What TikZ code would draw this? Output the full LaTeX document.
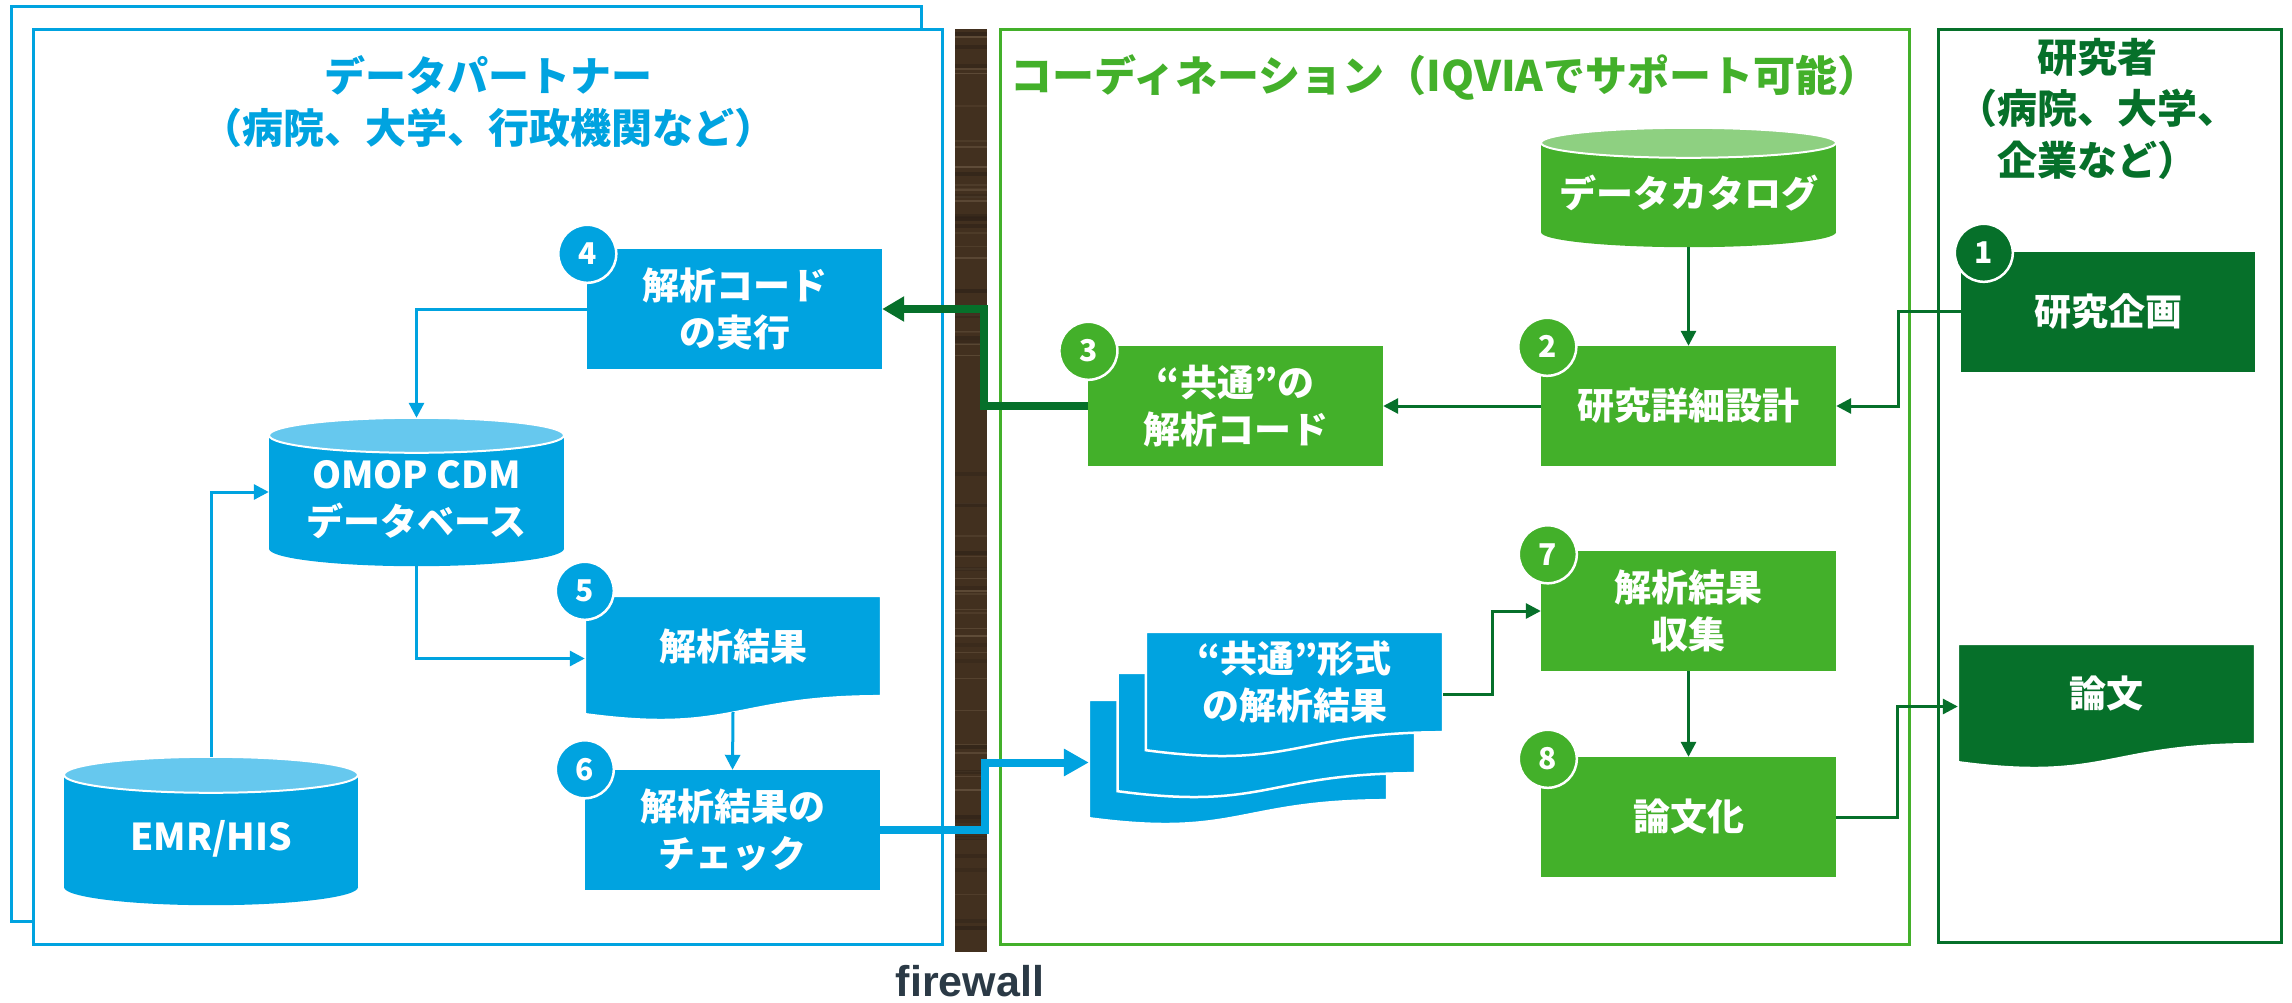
\documentclass[tikz,border=0pt]{standalone}
\usepackage{fontspec}
\usetikzlibrary{arrows.meta,calc}
\newfontfamily\jp{Noto Sans CJK JP}
\newfontfamily\fwfont{Liberation Sans}
\definecolor{cBlue}{HTML}{00A3E0}
\definecolor{cBlueL}{HTML}{66C8EE}
\definecolor{cGreen}{HTML}{43B02A}
\definecolor{cGreenL}{HTML}{8ED081}
\definecolor{cDark}{HTML}{06702A}
\definecolor{cWood}{HTML}{42301F}
\definecolor{cWoodL}{HTML}{7A6650}
\definecolor{cWoodD}{HTML}{2E2218}
\definecolor{cSlate}{HTML}{2B3A46}
\newcommand\docshape[2]{%
  \filldraw[fill=#2, draw=white, line width=2.5pt] (#1.north west) -- (#1.north east) -- ($(#1.south east)+(0,-25)$) .. controls ($(#1.south)+(0,-25)$) and ($(#1.south)+(0,13)$) .. ($(#1.south west)+(0,-7)$) -- cycle;}
\newcommand\cylshape[5]{%
  \fill[#2] ($(#1.north west)+(0,#4)$) rectangle ($(#1.south east)+(0,-#4)$);
  \fill[#2] ($(#1.south)+(0,-#4)$) ellipse [x radius=#5pt, y radius=#4pt];
  \filldraw[fill=#3, draw=white, line width=2pt] ($(#1.north)+(0,#4)$) ellipse [x radius=#5pt, y radius=#4pt];}
\begin{document}
\begin{tikzpicture}[x=1pt,y=-1pt,
  box/.style={rectangle, minimum width=295pt, minimum height=120pt, inner sep=0pt, text=white, font=\jp\bfseries\fontsize{37}{47}\selectfont, align=center},
  bluebox/.style={box, fill=cBlue},
  greenbox/.style={box, fill=cGreen},
  darkbox/.style={box, fill=cDark},
  shapebox/.style={rectangle, inner sep=0pt, minimum width=295pt},
  lbl/.style={text=white, font=\jp\bfseries\fontsize{37}{47}\selectfont, align=center, inner sep=0pt},
  badge/.style={circle, minimum size=58pt, inner sep=0pt, draw=white, line width=2.5pt, text=white, font=\jp\bfseries\fontsize{30}{30}\selectfont},
  frame/.style={rectangle, inner sep=0pt, line width=3pt},
  title/.style={align=center, inner sep=0pt, font=\jp\bfseries\fontsize{41}{52}\selectfont},
  bconn/.style={draw=cBlue, line width=3pt, -{Triangle[length=15pt,width=15pt]}},
  gconn/.style={draw=cDark, line width=3pt, -{Triangle[length=15pt,width=15pt]}},
  bthick/.style={draw=cBlue, line width=8pt, -{Triangle[length=25pt,width=26pt]}},
  gthick/.style={draw=cDark, line width=8pt, -{Triangle[length=22pt,width=24pt]}},
]
\useasboundingbox (0,0) rectangle (2292,1002);
\fill[white] (0,0) rectangle (2292,1002);

% frames
\node[frame, draw=cBlue, fill=white, minimum width=910pt, minimum height=915pt] (backframe) at (466.5,463.5) {};
\node[frame, draw=cBlue, fill=white, minimum width=909.6pt, minimum height=914.7pt] (frontframe) at (487.8,486.65) {};
\node[frame, draw=cGreen, minimum width=908.4pt, minimum height=914.7pt] (midframe) at (1454.8,486.65) {};
\node[frame, draw=cDark, minimum width=343pt, minimum height=913pt] (rframe) at (2109.5,485.5) {};

% firewall
\node[rectangle, inner sep=0pt, fill=cWood, minimum width=32pt, minimum height=922.7pt] (fw) at (971,490.65) {};
\pgfmathsetseed{11}
\foreach \i in {1,...,45}{%
  \pgfmathsetmacro{\yy}{31+918*rnd}%
  \pgfmathsetmacro{\op}{0.15+0.4*rnd}%
  \fill[cWoodL, opacity=\op] (955,\yy) rectangle (987,\yy+1.5);
}
\foreach \i in {1,...,30}{%
  \pgfmathsetmacro{\yy}{31+918*rnd}%
  \pgfmathsetmacro{\op}{0.3+0.4*rnd}%
  \fill[cWoodD, opacity=\op] (955,\yy) rectangle (987,\yy+4);
}
\node[anchor=base, inner sep=0pt, text=cSlate, font=\fwfont\bfseries\fontsize{43}{43}\selectfont] (fwlabel) at (970,996.7) {firewall};

% titles
\node[title, text=cBlue] (ltitle) at (488,102) {データパートナー\\（病院、大学、行政機関など）};
\node[title, text=cGreen, font=\jp\bfseries\fontsize{42}{52}\selectfont] (mtitle) at (1445,77) {コーディネーション（IQVIAでサポート可能）};
\node[title, text=cDark, font=\jp\bfseries\fontsize{40}{51.5}\selectfont] (rtitle) at (2097,108.5) {研究者\\（病院、大学、\\企業など）};

% left panel
\node[bluebox] (box4) at (734.5,309) {解析コード\\の実行};
\node[shapebox, minimum height=148pt] (omop) at (416.5,492) {};
\cylshape{omop}{cBlue}{cBlueL}{17.5}{147.5}
\node[lbl] (omopt) at ($(omop.center)+(0,8)$) {OMOP CDM\\データベース};
\node[shapebox, minimum width=294pt, minimum height=148pt] (emr) at (211,831) {};
\cylshape{emr}{cBlue}{cBlueL}{18}{147}
\node[lbl] (emrt) at ($(emr.center)+(0,8)$) {EMR/HIS};
\node[shapebox, minimum width=296pt, minimum height=125pt] (box5) at (733,658.5) {};
\docshape{box5}{cBlue}
\node[lbl] (box5t) at ($(box5.center)+(0,-12.5)$) {解析結果};
\node[bluebox] (box6) at (732.5,830) {解析結果の\\チェック};

% middle panel
\node[shapebox, minimum height=119pt] (cat) at (1688.5,187.5) {};
\cylshape{cat}{cGreen}{cGreenL}{15}{147.5}
\node[lbl] (catt) at ($(cat.center)+(0,5.5)$) {データカタログ};
\node[greenbox] (box2) at (1688.5,406) {研究詳細設計};
\node[greenbox] (box3) at (1235.5,406) {“共通”の\\解析コード};
\node[shapebox, minimum width=298pt, minimum height=125pt] (back) at (1238,762.5) {};
\node[shapebox, minimum width=297pt, minimum height=125pt] (mid) at (1266.4,735.5) {};
\node[shapebox, minimum width=297pt, minimum height=125pt] (front) at (1294.5,694.5) {};
\docshape{back}{cBlue}
\docshape{mid}{cBlue}
\docshape{front}{cBlue}
\node[lbl] (frontt) at ($(front.center)+(0,-12.5)$) {“共通”形式\\の解析結果};
\node[greenbox] (box7) at (1688.5,611) {解析結果\\収集};
\node[greenbox] (box8) at (1688.5,817) {論文化};

% right panel
\node[darkbox, minimum width=294pt] (box1) at (2108,311.7) {研究企画};
\node[shapebox, minimum width=297pt, minimum height=125pt] (ronbun) at (2106.5,706.5) {};
\docshape{ronbun}{cDark}
\node[lbl] (ronbunt) at ($(ronbun.center)+(0,-12.5)$) {論文};

% connectors
\draw[gconn] (box1.west) -- ++(-62.5,0) |- (box2.east);
\draw[gconn] (cat.south) -- (box2.north);
\draw[gconn] (box2.west) -- (box3.east);
\draw[gthick] (box3.west) -- ++(-103.5,0) |- (box4.east);
\draw[bconn] (box4.west) -| (omop.north);
\draw[bconn] (emr.north) |- (omop.west);
\draw[bconn] (omop.south) |- (box5.west);
\draw[bconn] ($(box5.south)+(0,-9)$) -- (box6.north);
\draw[bthick] (box6.east) -- ++(104.5,0) |- (back.west);
\draw[gconn] (front.east) -- ++(49,0) |- (box7.west);
\draw[gconn] (box7.south) -- (box8.north);
\draw[gconn] (box8.east) -- ++(61,0) |- (ronbun.west);

% badges
\node[badge, fill=cDark] (b1) at ($(box1.north west)+(23,1.3)$) {1};
\node[badge, fill=cGreen] (b2) at ($(box2.north west)+(6.5,1)$) {2};
\node[badge, fill=cGreen] (b3) at ($(box3.north west)+(0.6,5)$) {3};
\node[badge, fill=cBlue] (b4) at ($(box4.north west)+(0.5,5)$) {4};
\node[badge, fill=cBlue] (b5) at ($(box5.north west)+(0,-5)$) {5};
\node[badge, fill=cBlue] (b6) at ($(box6.north west)+(0,-0.5)$) {6};
\node[badge, fill=cGreen] (b7) at ($(box7.north west)+(7,3.5)$) {7};
\node[badge, fill=cGreen] (b8) at ($(box8.north west)+(7,2)$) {8};
\end{tikzpicture}
\end{document}
